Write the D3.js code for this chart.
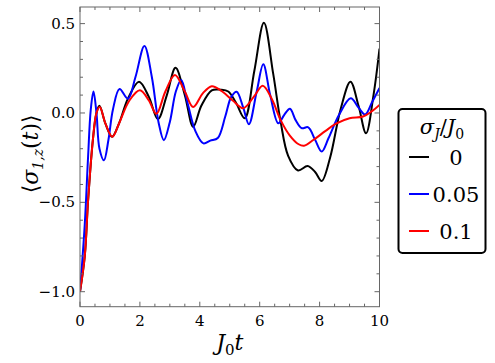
<!DOCTYPE html>
<html>
<head>
<meta charset="utf-8">
<script src="https://cdn.jsdelivr.net/npm/d3@7"></script>
<style>
  body { margin: 0; background: #fff; }
  svg { display: block; }
</style>
</head>
<body>
<div id="chart"></div>
<script>
// legend entries
const seriesLabels = ["0", "0.05", "0.1"];
const seriesColors = ["#000000", "#0000ff", "#ff0000"];

// sigma_J / J0 = 0
const tBlack = [0, 0.16, 0.27, 0.43, 0.55, 0.65, 0.85, 1.07, 1.3, 1.6, 1.97, 2.3, 2.6, 2.9, 3.19, 3.5, 3.78, 4.05, 4.4, 4.7, 4.95, 5.2, 5.5, 5.82, 6.14, 6.45, 6.7, 6.95, 7.28, 7.6, 7.85, 8.07, 8.35, 8.7, 9.03, 9.3, 9.55, 9.8, 10];
const yBlack = [-1.0, -0.8, -0.49, -0.15, 0.0, 0.04, -0.06, -0.133, -0.06, 0.08, 0.175, 0.09, -0.035, 0.1, 0.253, 0.1, -0.077, 0.04, 0.127, 0.13, 0.12, 0.06, -0.03, 0.235, 0.505, 0.22, -0.05, -0.24, -0.322, -0.297, -0.33, -0.38, -0.25, 0.02, 0.175, 0.04, -0.114, 0.1, 0.36];

// sigma_J / J0 = 0.05
const tBlue = [0, 0.16, 0.27, 0.36, 0.45, 0.55, 0.65, 0.8, 0.95, 1.1, 1.32, 1.6, 1.85, 2.15, 2.4, 2.62, 2.8, 3.0, 3.2, 3.38, 3.6, 3.85, 4.12, 4.35, 4.6, 4.85, 5.05, 5.23, 5.45, 5.64, 5.9, 6.12, 6.35, 6.62, 6.82, 7.01, 7.2, 7.4, 7.62, 7.85, 8.07, 8.3, 8.65, 9.04, 9.3, 9.52, 9.75, 10];
const yBlue = [-1.0, -0.62, -0.245, 0.02, 0.12, 0.0, -0.2, -0.265, -0.15, 0.02, 0.134, 0.08, 0.2, 0.375, 0.2, -0.05, -0.152, -0.05, 0.12, 0.185, 0.05, -0.1, -0.17, -0.155, -0.14, -0.02, 0.09, 0.119, 0.03, -0.063, 0.12, 0.272, 0.1, -0.058, -0.01, 0.024, -0.04, -0.085, -0.08, -0.15, -0.216, -0.14, -0.01, 0.082, 0.03, -0.008, 0.06, 0.14];

// sigma_J / J0 = 0.1
const tRed = [0, 0.16, 0.27, 0.43, 0.55, 0.66, 0.85, 1.08, 1.3, 1.65, 2.0, 2.3, 2.55, 2.85, 3.17, 3.5, 3.78, 4.1, 4.4, 4.75, 5.1, 5.45, 5.8, 6.1, 6.4, 6.7, 7.0, 7.3, 7.48, 7.8, 8.2, 8.55, 9.0, 9.45, 9.75, 10];
const yRed = [-1.0, -0.8, -0.49, -0.15, 0.0, 0.033, -0.06, -0.133, -0.06, 0.07, 0.127, 0.07, -0.005, 0.12, 0.213, 0.12, 0.033, 0.11, 0.15, 0.12, 0.07, 0.027, 0.09, 0.152, 0.08, -0.04, -0.125, -0.175, -0.183, -0.15, -0.1, -0.06, -0.03, -0.02, 0.01, 0.045];

const xTicks = [0, 2, 4, 6, 8, 10];
const yTicks = [-1.0, -0.5, 0.0, 0.5];

const W = 495, H = 363;
const plot = { left: 80, right: 379.5, top: 7, bottom: 306.7 };
const FONT = "DejaVu Serif";

const svg = d3.select("#chart").append("svg")
  .attr("width", W)
  .attr("height", H)
  .attr("font-family", FONT);

const x = d3.scaleLinear().domain([0, 10]).range([plot.left, plot.right]);
const y = d3.scaleLinear().domain([-1.084, 0.593]).range([plot.bottom, plot.top]);

const frameColor = "#666";

// clip so curves stay inside the frame
svg.append("clipPath").attr("id", "clip")
  .append("rect")
  .attr("x", plot.left).attr("y", plot.top)
  .attr("width", plot.right - plot.left)
  .attr("height", plot.bottom - plot.top);

// curves
const line = d3.line()
  .x(d => x(d[0]))
  .y(d => y(d[1]))
  .curve(d3.curveCatmullRom.alpha(0.5));

const series = [
  d3.zip(tBlack, yBlack),
  d3.zip(tBlue, yBlue),
  d3.zip(tRed, yRed)
];

svg.append("g").attr("clip-path", "url(#clip)")
  .selectAll("path")
  .data(series)
  .enter().append("path")
  .attr("d", line)
  .attr("fill", "none")
  .attr("stroke", (d, i) => seriesColors[i])
  .attr("stroke-width", 2)
  .attr("stroke-linejoin", "round");

// frame
svg.append("rect")
  .attr("x", plot.left).attr("y", plot.top)
  .attr("width", plot.right - plot.left)
  .attr("height", plot.bottom - plot.top)
  .attr("fill", "none")
  .attr("stroke", frameColor)
  .attr("stroke-width", 1);

// ticks (inward, on all four sides)
const xMinor = d3.range(0, 10.001, 0.5);
const yMinor = d3.range(-1.0, 0.5501, 0.1).map(v => Math.round(v * 10) / 10);

const ticks = svg.append("g").attr("stroke", frameColor).attr("stroke-width", 1);
xMinor.forEach(v => {
  const len = xTicks.includes(v) ? 5 : 3;
  const px = x(v);
  ticks.append("line").attr("x1", px).attr("x2", px).attr("y1", plot.bottom).attr("y2", plot.bottom - len);
  ticks.append("line").attr("x1", px).attr("x2", px).attr("y1", plot.top).attr("y2", plot.top + len);
});
yMinor.forEach(v => {
  const len = yTicks.some(t => Math.abs(t - v) < 1e-6) ? 5 : 3;
  const py = y(v);
  ticks.append("line").attr("x1", plot.left).attr("x2", plot.left + len).attr("y1", py).attr("y2", py);
  ticks.append("line").attr("x1", plot.right).attr("x2", plot.right - len).attr("y1", py).attr("y2", py);
});

// tick labels
svg.append("g").selectAll("text")
  .data(xTicks)
  .enter().append("text")
  .attr("x", d => x(d))
  .attr("y", plot.bottom + 19)
  .attr("text-anchor", "middle")
  .attr("font-size", 15)
  .text(d => d);

svg.append("g").selectAll("text")
  .data(yTicks)
  .enter().append("text")
  .attr("x", plot.left - 5)
  .attr("y", d => y(d) + 5)
  .attr("text-anchor", "end")
  .attr("font-size", 15)
  .text(d => (d < 0 ? "\u2212" : "") + Math.abs(d).toFixed(1));

// x axis label: J0 t
const xl = svg.append("text")
  .attr("x", (plot.left + plot.right) / 2)
  .attr("y", 350)
  .attr("text-anchor", "middle")
  .attr("font-size", 22);
xl.append("tspan").attr("font-style", "italic").text("J");
xl.append("tspan").attr("dy", 5).attr("font-size", 15).text("0");
xl.append("tspan").attr("dy", -5).attr("font-style", "italic").text("t");

// y axis label: <sigma_{1,z}(t)>
const yl = svg.append("text")
  .attr("transform", `translate(38, ${(plot.top + plot.bottom) / 2 - 3}) rotate(-90)`)
  .attr("text-anchor", "middle")
  .attr("font-size", 22);
yl.append("tspan").text("\u27E8");
yl.append("tspan").attr("font-style", "italic").text("\u03C3");
yl.append("tspan").attr("dy", 5).attr("font-size", 14).attr("font-style", "italic").text("1,z");
yl.append("tspan").attr("dy", -5).text("(");
yl.append("tspan").attr("font-style", "italic").text("t");
yl.append("tspan").text(")\u27E9");

// legend
const legend = svg.append("g");
legend.append("rect")
  .attr("x", 398.5).attr("y", 109)
  .attr("width", 87).attr("height", 144)
  .attr("rx", 4)
  .attr("fill", "#fff")
  .attr("stroke", "#000")
  .attr("stroke-width", 2);

const lt = legend.append("text")
  .attr("x", 442).attr("y", 134)
  .attr("text-anchor", "middle")
  .attr("font-size", 21);
lt.append("tspan").attr("font-style", "italic").text("\u03C3");
lt.append("tspan").attr("dy", 5).attr("font-size", 14).attr("font-style", "italic").text("J");
lt.append("tspan").attr("dy", -5).text("/");
lt.append("tspan").attr("font-style", "italic").text("J");
lt.append("tspan").attr("dy", 5).attr("font-size", 14).text("0");

const rowY = [157, 194, 231];
seriesLabels.forEach((lab, i) => {
  legend.append("line")
    .attr("x1", 409).attr("x2", 429)
    .attr("y1", rowY[i]).attr("y2", rowY[i])
    .attr("stroke", seriesColors[i])
    .attr("stroke-width", 2);
  legend.append("text")
    .attr("x", 456).attr("y", rowY[i] + 8)
    .attr("text-anchor", "middle")
    .attr("font-size", 21)
    .text(lab);
});
</script>
</body>
</html>
